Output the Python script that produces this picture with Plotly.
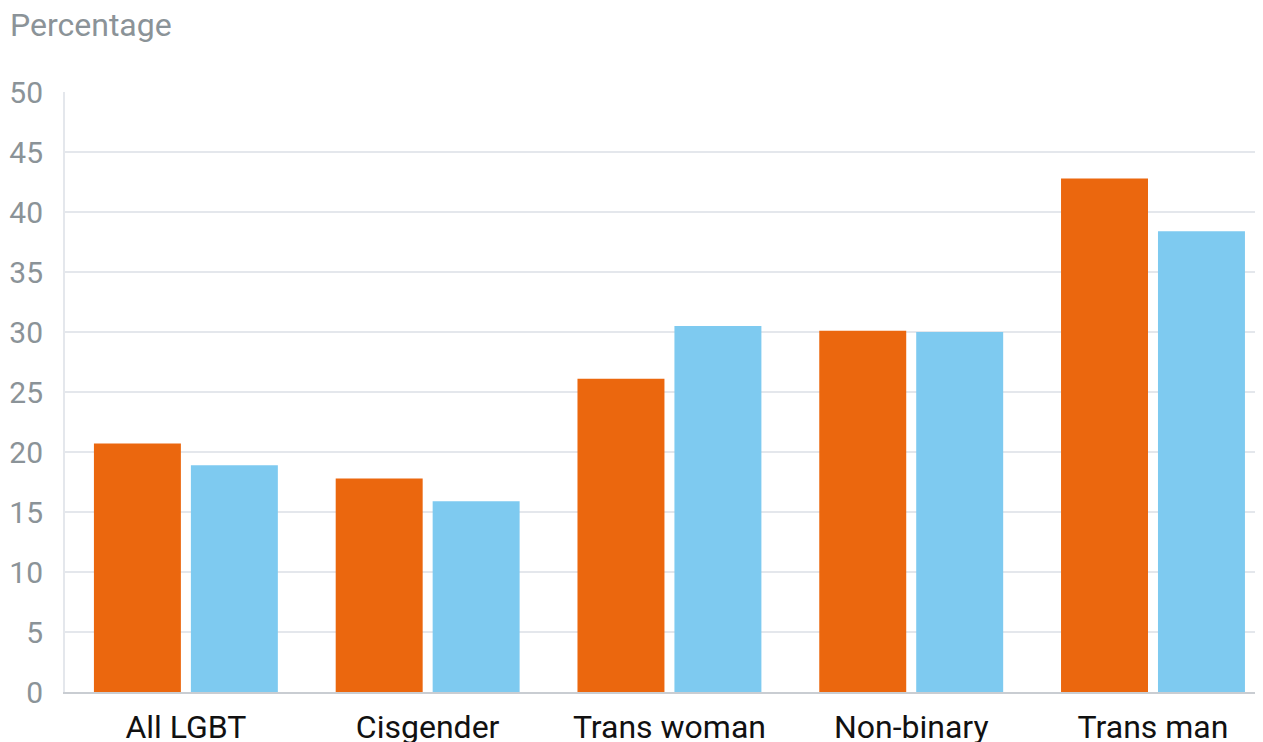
import plotly.graph_objects as go

categories = ["All LGBT", "Cisgender", "Trans woman", "Non-binary", "Trans man"]
series_a = [20.7, 17.8, 26.1, 30.1, 42.8]
series_b = [18.9, 15.9, 30.5, 30.0, 38.4]
y_ticks = [0, 5, 10, 15, 20, 25, 30, 35, 40, 45, 50]

fig = go.Figure()
fig.add_trace(go.Bar(x=categories, y=series_a, name="Series A", marker_color="#EB670E", marker_line_width=0))
fig.add_trace(go.Bar(x=categories, y=series_b, name="Series B", marker_color="#7ECAF0", marker_line_width=0))

fig.update_layout(
    width=1255, height=734,
    margin=dict(l=57, r=0, t=84, b=50, autoexpand=False),
    paper_bgcolor="white", plot_bgcolor="white",
    barmode="group", bargap=0.198, bargroupgap=0.103,
    showlegend=False,
    font=dict(family="Roboto", size=30, color="#8B9398"),
    annotations=[dict(text="Percentage", xref="paper", x=0, xanchor="left", xshift=-57,
                      yref="paper", y=1, yanchor="middle", yshift=67, showarrow=False,
                      font=dict(size=32, color="#8B9398"))],
)
fig.update_xaxes(range=[-0.5, 4.455], showgrid=False, showline=True, linecolor="#C9CDD2", linewidth=2,
                 ticks="", tickfont=dict(size=32, color="#111111"), ticklabelstandoff=6, fixedrange=True)
fig.update_yaxes(range=[0, 50], tickvals=y_ticks, showgrid=True, gridcolor="#E4E7EC", gridwidth=2,
                 zeroline=False, showline=True, linecolor="#E4E7EC", linewidth=2,
                 ticks="", tickfont=dict(size=30, color="#8B9398"), ticklabelstandoff=14)

fig.write_html("out.html")
